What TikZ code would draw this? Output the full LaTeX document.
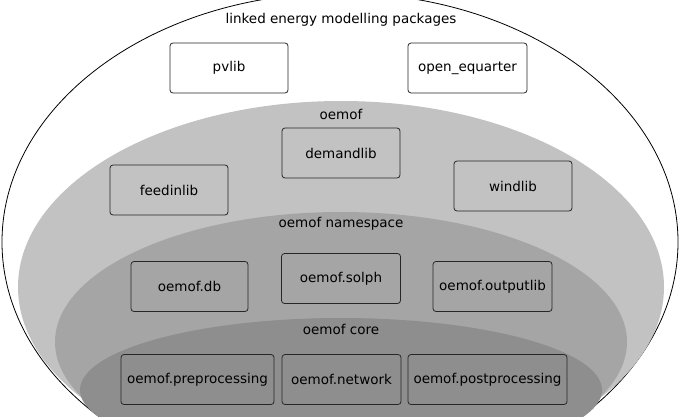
\documentclass[tikz,border=0pt]{standalone}
\usepackage{fontspec}
\setmainfont{DejaVu Sans}
\begin{document}
\begin{tikzpicture}[x=1pt,y=-1pt,
  pkg/.style={draw=black!85,line width=0.8pt,rounded corners=3pt,minimum height=50pt,inner sep=0pt,font=\fontsize{13.5}{15}\selectfont},
  lbl/.style={inner sep=0pt,font=\fontsize{13.5}{15}\selectfont}]
\definecolor{lg}{HTML}{C2C2C2}
\definecolor{mg}{HTML}{A5A5A5}
\definecolor{dg}{HTML}{8E8E8E}
\useasboundingbox (0,0) rectangle (680,420);
\begin{scope}
\clip (-5,-20) rectangle (685,416);
\draw[fill=white,line width=0.8pt] (340,242) ellipse [x radius=338,y radius=249];
\fill[lg] (341,287) ellipse [x radius=323,y radius=186];
\fill[mg] (341,342) ellipse [x radius=286,y radius=130];
\fill[dg] (341,390) ellipse [x radius=261,y radius=72];
\end{scope}
\node[lbl] (t0) at (341,20) {linked energy modelling packages};
\node[lbl] (t1) at (341,114) {oemof};
\node[lbl] (t2) at (341,224) {oemof namespace};
\node[lbl] (t3) at (341,329) {oemof core};
\node[pkg,minimum width=118pt] (pv) at (229,68) {pvlib};
\node[pkg,minimum width=119pt] (oq) at (467.5,68) {open\_equarter};
\node[pkg,minimum width=118pt] (dl) at (341,153) {demandlib};
\node[pkg,minimum width=118pt] (fl) at (169,190) {feedinlib};
\node[pkg,minimum width=118pt] (wl) at (513,186) {windlib};
\node[pkg,minimum width=117pt] (db) at (189.5,286.5) {oemof.db};
\node[pkg,minimum width=119pt] (so) at (341,278.5) {oemof.solph};
\node[pkg,minimum width=119pt] (ol) at (492.5,286.5) {oemof.outputlib};
\node[pkg,minimum width=153pt] (pp) at (197.5,379.5) {oemof.preprocessing};
\node[pkg,minimum width=119pt] (nw) at (341.5,379.5) {oemof.network};
\node[pkg,minimum width=159pt] (po) at (487.5,379.5) {oemof.postprocessing};
\end{tikzpicture}
\end{document}
